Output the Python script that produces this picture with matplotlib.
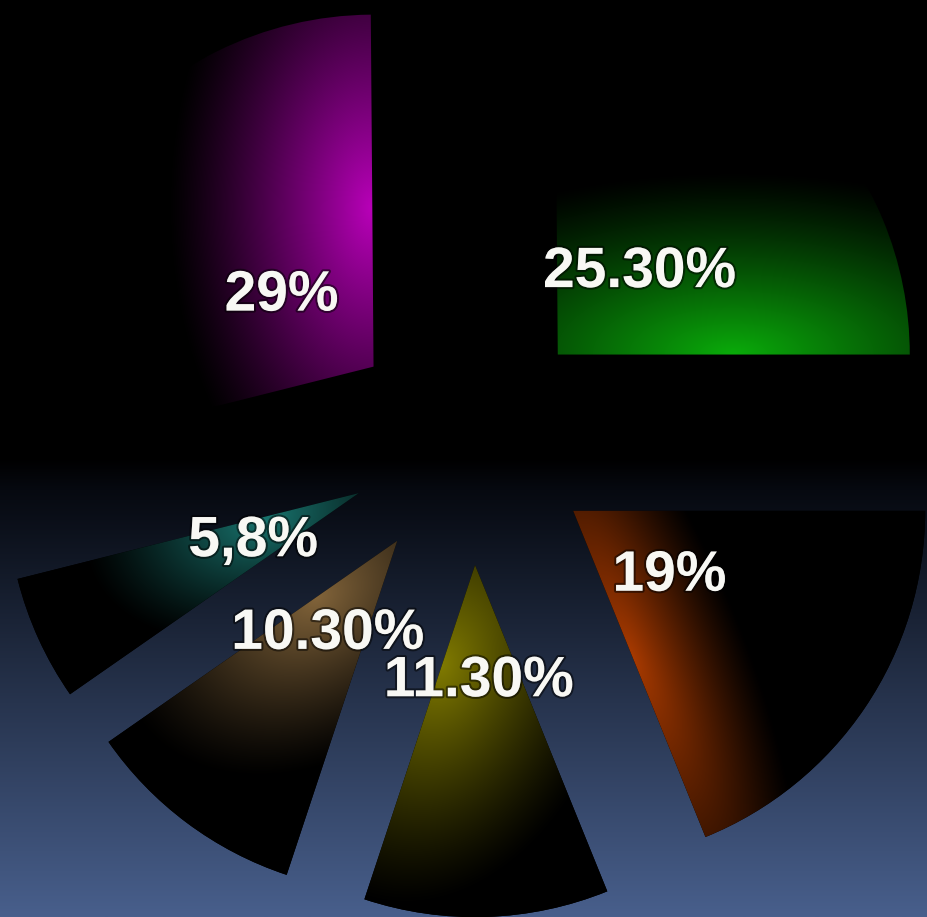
import numpy as np
import matplotlib
matplotlib.use("Agg")
import matplotlib.pyplot as plt
import matplotlib.patheffects as pe

# ---- data ----
values = [25.3, 29.0, 5.8, 10.3, 11.3, 19.0]
labels = ["25.30%", "29%", "5,8%", "10.30%", "11.30%", "19%"]
peak_colors = [(10, 172, 10), (185, 0, 185), (25, 118, 112),
               (130, 100, 58), (128, 122, 0), (168, 58, 0)]

# gradient styling per slice: (position along start edge, along scale, perp scale)
grad_style = [(0.50, 1.15, 0.52), (0.45, 0.95, 0.58), (0.28, 0.52, 0.35),
              (0.28, 0.62, 0.45), (0.30, 0.70, 0.50), (0.45, 1.00, 0.32)]

W, H = 928, 917
fig = plt.figure(figsize=(W / 100, H / 100), dpi=100)
ax = fig.add_axes([0, 0, 1, 1])
ax.set_axis_off()

scale = 352.0
cx_px, cy_px = 471.0, 442.0
xlim = (-cx_px / scale, (W - cx_px) / scale)
ylim = ((cy_px - H) / scale, cy_px / scale)

# background gradient
ny = 400
yy = np.linspace(0, 1, ny)
top_c = np.array([0, 0, 0]) / 255
mid_c = np.array([6, 9, 16]) / 255
bot_c = np.array([72, 95, 140]) / 255
f0 = 490 / H
fw = 0.035
bg = np.zeros((ny, 1, 3))
for i, y in enumerate(yy):
    if y < f0 - fw:
        bg[i, 0] = top_c
    elif y < f0:
        bg[i, 0] = top_c + (mid_c - top_c) * (y - (f0 - fw)) / fw
    else:
        t = (y - f0) / (1 - f0)
        bg[i, 0] = mid_c + (bot_c - mid_c) * t
ax.imshow(bg, extent=(xlim[0], xlim[1], ylim[0], ylim[1]), aspect='auto',
          zorder=0, interpolation='bilinear')

it = iter(labels)
wedges, texts, autotexts = ax.pie(
    values, explode=[0.35] * len(values), startangle=0, counterclock=True,
    radius=1.0, colors=['black'] * len(values), autopct=lambda p: next(it),
    pctdistance=0.33, wedgeprops=dict(linewidth=0, edgecolor='none'),
    textprops=dict(color='white', fontsize=41, fontweight='bold',
                   family='Liberation Sans'))

for w in wedges:
    w.set_zorder(2)

# gradient overlays
nx, nyy = 700, 700
gx = np.linspace(xlim[0], xlim[1], nx)
gy = np.linspace(ylim[1], ylim[0], nyy)
X, Y = np.meshgrid(gx, gy)
for w, col, (t0, sa, sp) in zip(wedges, peak_colors, grad_style):
    c = np.array(w.center)
    r = w.r
    th = np.deg2rad(w.theta1)
    u = np.array([np.cos(th), np.sin(th)])
    n = np.array([-np.sin(th), np.cos(th)])
    px = X - c[0]
    py = Y - c[1]
    a = px * u[0] + py * u[1] - t0 * r
    b = px * n[0] + py * n[1]
    d = np.sqrt((a / (sa * r)) ** 2 + (b / (sp * r)) ** 2)
    inten = np.clip(1 - d, 0, 1) ** 1.2
    img = np.zeros((nyy, nx, 3))
    for k in range(3):
        img[..., k] = col[k] / 255 * inten
    im = ax.imshow(img, extent=(xlim[0], xlim[1], ylim[0], ylim[1]),
                   aspect='auto', zorder=3, interpolation='bilinear')
    im.set_clip_path(w)

for t in autotexts:
    t.set_zorder(5)
    t.set_color('#f8f8f4')
    t.set_path_effects([pe.withStroke(linewidth=3, foreground=(0, 0, 0, 0.5))])

ax.set_xlim(*xlim)
ax.set_ylim(*ylim)
ax.set_aspect('auto')
fig.savefig("out.png", dpi=100, facecolor='black')
